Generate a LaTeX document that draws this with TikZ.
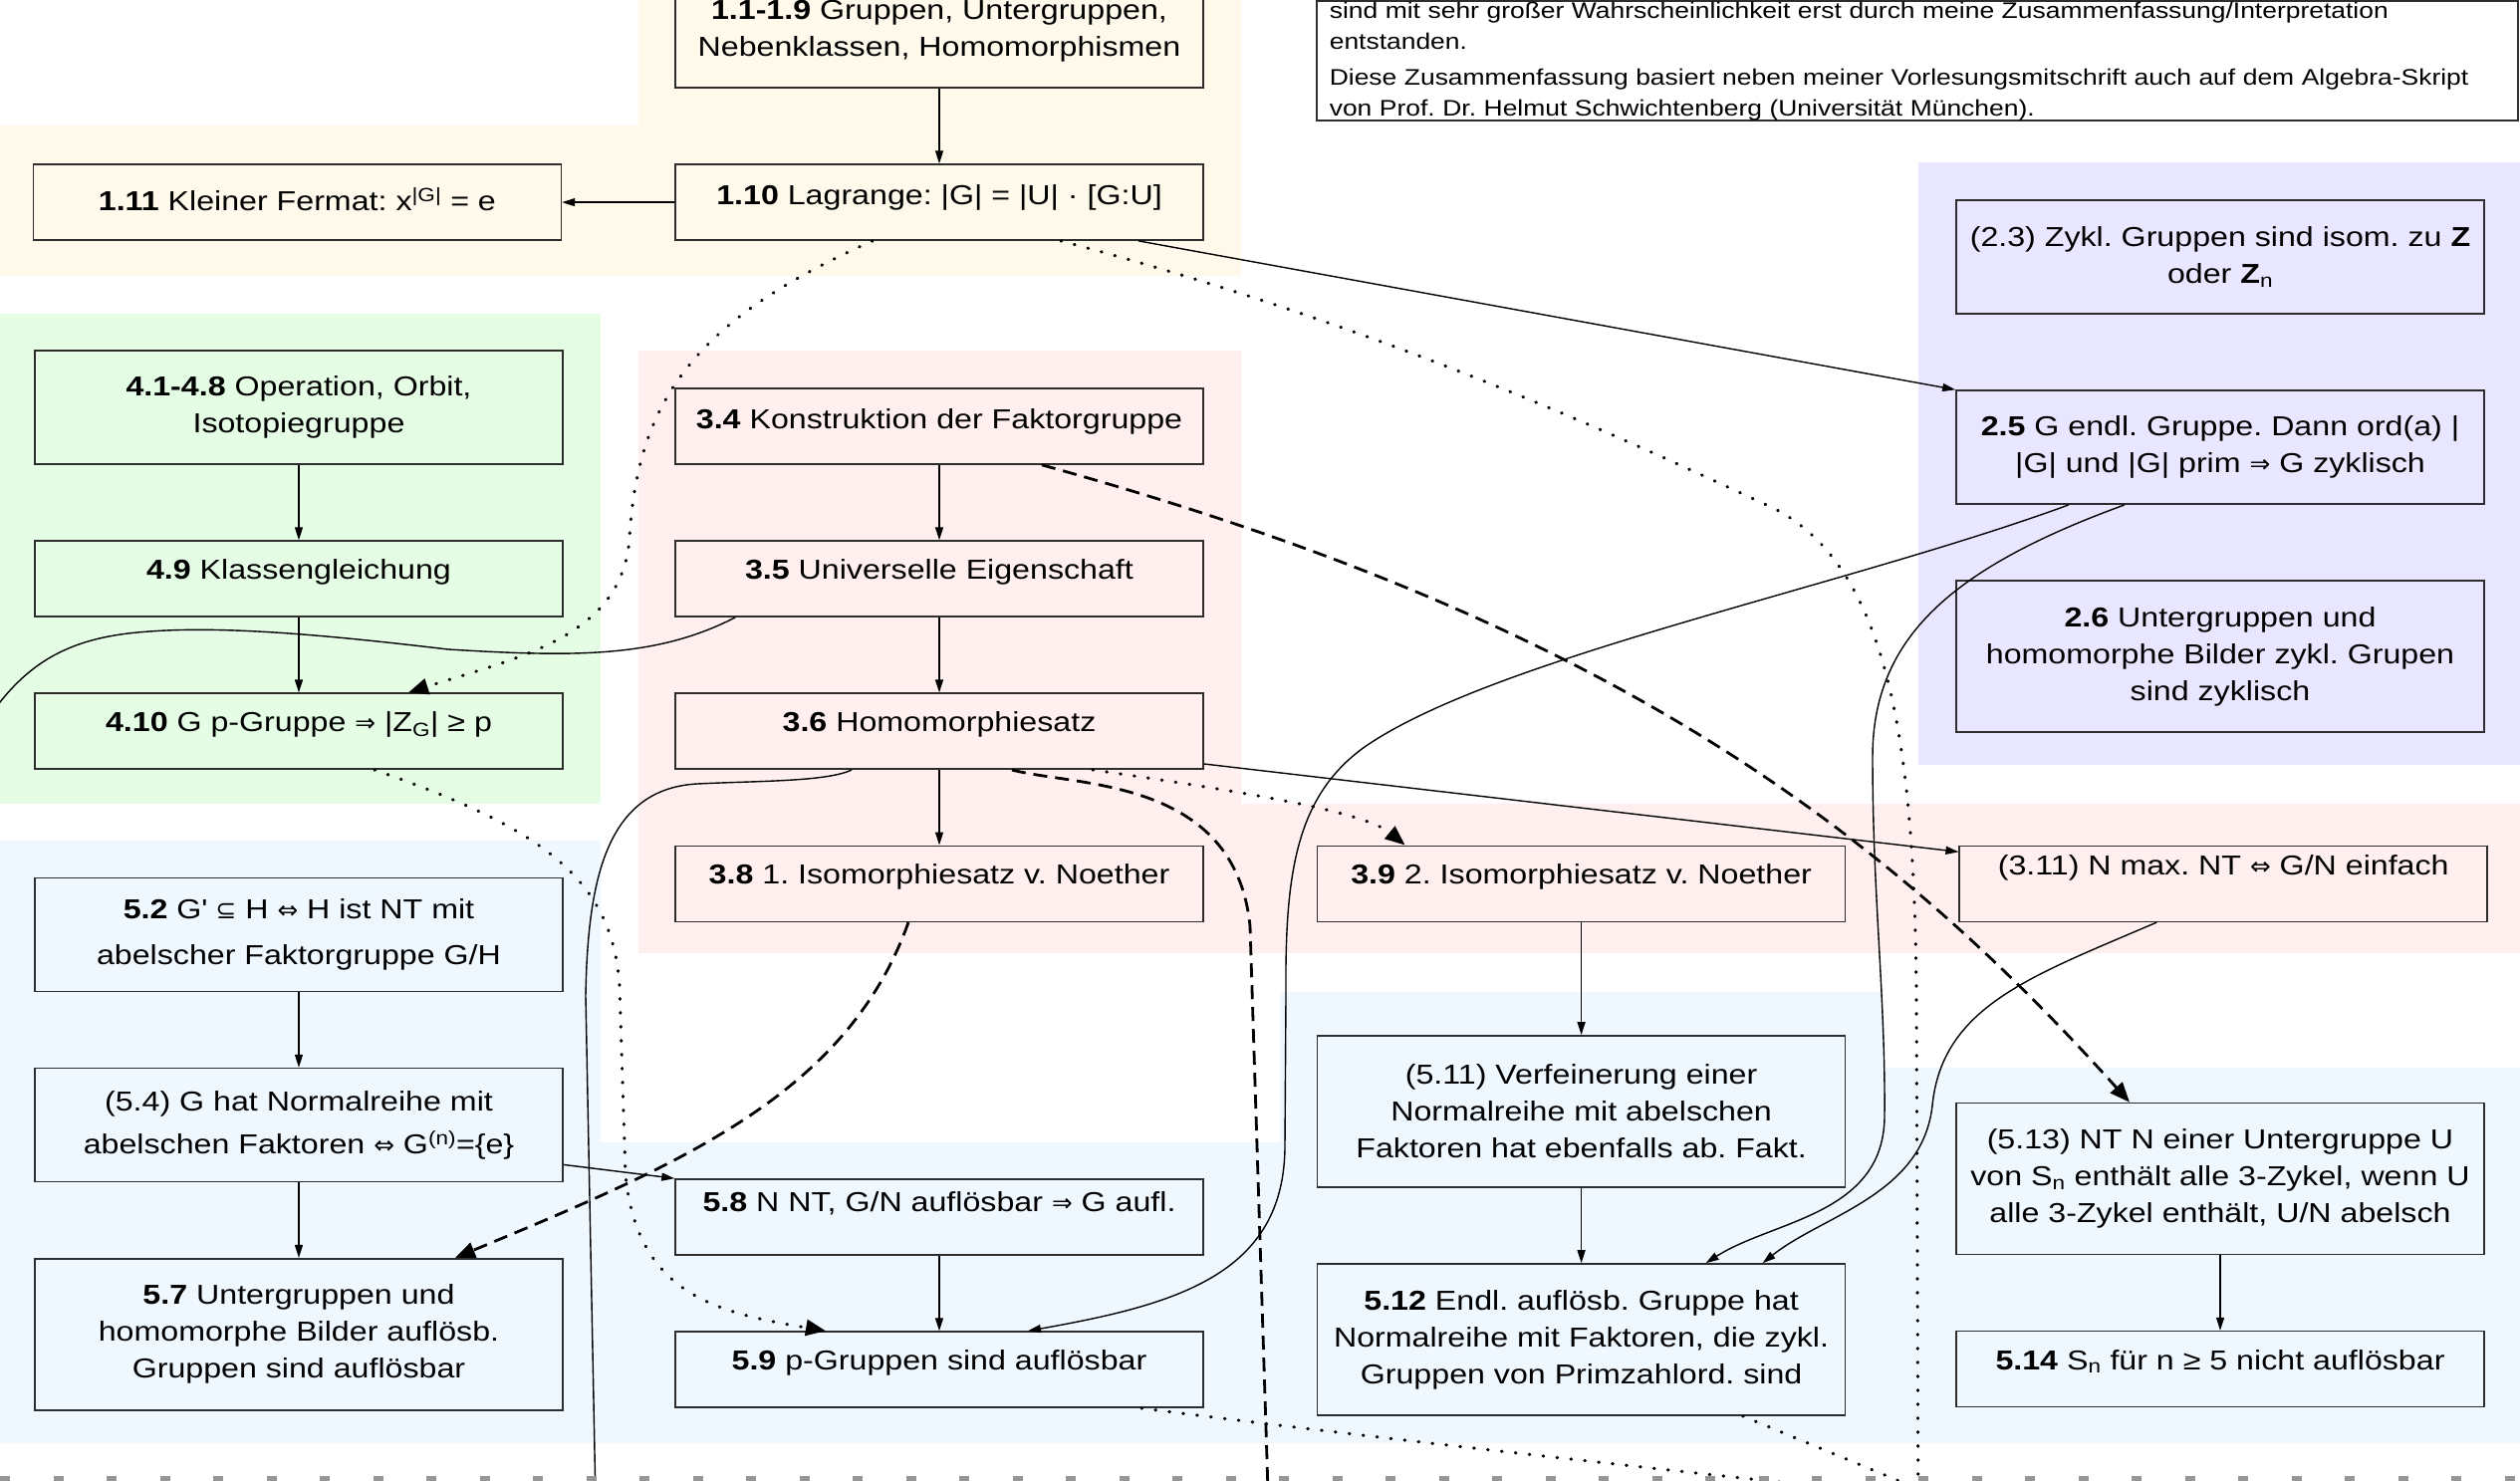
\documentclass[tikz,border=0pt]{standalone}
\usepackage{fontspec}
\setmainfont[FakeStretch=1.17]{Liberation Sans}
\newfontfamily\symfont[Scale=0.9]{DejaVu Sans}
\usepackage{tikz}
\usetikzlibrary{arrows.meta,positioning}
\definecolor{grpyellow}{RGB}{254,249,234}
\definecolor{grpgreen}{RGB}{229,252,229}
\definecolor{grppink}{RGB}{255,239,239}
\definecolor{grpviolet}{RGB}{233,231,255}
\definecolor{grpblue}{RGB}{240,248,255}
\definecolor{boxline}{RGB}{45,45,45}
\definecolor{breakgray}{RGB}{150,150,150}
\newcommand{\thimp}{{\symfont ⇒}}
\newcommand{\theqv}{{\symfont ⇔}}
\newcommand{\thsub}{{\symfont ⊆}}
\frenchspacing

\begin{document}
\begin{tikzpicture}[
    x=1pt, y=-1pt,
    node distance=75.5pt,
    thm/.style={rectangle, draw=boxline, line width=1.6pt, minimum width=530pt, inner sep=0pt, align=center, font=\fontsize{27.5}{37}\selectfont},
    one/.style={thm, minimum height=76pt, text height=20pt, text depth=19pt},
    two/.style={thm, minimum height=114pt},
    three/.style={thm, minimum height=152pt},
    note/.style={rectangle, draw=boxline, fill=white, line width=1.6pt, inner xsep=13pt, inner ysep=0.5pt, text width=1180pt, align=left, font=\fontsize{22.6}{31}\selectfont},
    arrow/.style={-{Triangle[length=13pt, width=8pt]}, line width=1.4pt},
    link/.style={line width=1.4pt},
    dotarrow/.style={-{Triangle[length=20pt, width=16pt]}, line width=3.2pt, line cap=round, dash pattern=on 0.6pt off 13.4pt},
    dotlink/.style={line width=3.2pt, line cap=round, dash pattern=on 0.6pt off 13.4pt},
    dasharrow/.style={-{Triangle[length=20pt, width=16pt]}, line width=2.8pt, dash pattern=on 14pt off 8pt},
    dashlink/.style={line width=2.8pt, dash pattern=on 14pt off 8pt}
]
\useasboundingbox (0,0) rectangle (2530,1487);

% group backgrounds
\fill[grpyellow] (0,126) -- (641,126) -- (641,-10) -- (1246,-10) -- (1246,277) -- (0,277) -- cycle;
\fill[grpgreen] (0,315) rectangle (603,807);
\fill[grppink] (641,352) -- (1246,352) -- (1246,807) -- (2540,807) -- (2540,957) -- (641,957) -- cycle;
\fill[grpviolet] (1926,163) rectangle (2540,768);
\fill[grpblue] (0,844) -- (603,844) -- (603,1147) -- (1285,1147) -- (1285,996) -- (1890,996) -- (1890,1072) -- (2540,1072) -- (2540,1449) -- (0,1449) -- cycle;

% chapter 1
\node[two] (b19) at (943,31) {\textbf{1.1-1.9} Gruppen, Untergruppen,\\Nebenklassen, Homomorphismen};
\node[one, text depth=16pt, below=of b19] (b110) {\textbf{1.10} Lagrange: |G| = |U| · [G:U]};
\node[one, text depth=4pt, left=113pt of b110] (b111) {\textbf{1.11} Kleiner Fermat: x\textsuperscript{|G|} = e};

% chapter 3
\node[one, text depth=16pt] (b34) at (943,428) {\textbf{3.4} Konstruktion der Faktorgruppe};
\node[one, below=of b34] (b35) {\textbf{3.5} Universelle Eigenschaft};
\node[one, below=of b35] (b36) {\textbf{3.6} Homomorphiesatz};
\node[one, below=of b36] (b38) {\textbf{3.8} 1. Isomorphiesatz v. Noether};
\node[one, right=113pt of b38] (b39) {\textbf{3.9} 2. Isomorphiesatz v. Noether};
\node[one, text depth=38pt, right=113pt of b39] (b311) {(3.11) N max. NT \theqv{} G/N einfach};

% chapter 4
\node[two] (b41) at (300,409) {\textbf{4.1-4.8} Operation, Orbit,\\Isotopiegruppe};
\node[one, below=of b41] (b49) {\textbf{4.9} Klassengleichung};
\node[one, below=of b49] (b410) {\textbf{4.10} G p-Gruppe \thimp{} |Z\textsubscript{G}| ≥ p};

% chapter 2
\node[two] (b23) at (2229,258) {(2.3) Zykl. Gruppen sind isom. zu \textbf{Z}\\oder \textbf{Z}\textsubscript{n}};
\node[two, below=of b23] (b25) {\textbf{2.5} G endl. Gruppe. Dann ord(a) |\\|G| und |G| prim \thimp{} G zyklisch};
\node[three, below=of b25] (b26) {\textbf{2.6} Untergruppen und\\homomorphe Bilder zykl. Grupen\\sind zyklisch};

% chapter 5
\node[two] (b52) at (300,938.5) {\textbf{5.2} G\textquotesingle{} \thsub{} H \theqv{} H ist NT mit\\[9pt]abelscher Faktorgruppe G/H};
\node[two, below=of b52] (b54) {(5.4) G hat Normalreihe mit\\[6pt]abelschen Faktoren \theqv{} G\textsuperscript{(n)}=\{e\}};
\node[three, below=of b54] (b57) {\textbf{5.7} Untergruppen und\\homomorphe Bilder auflösb.\\Gruppen sind auflösbar};
\node[one, text depth=32pt] (b58) at (943,1222) {\textbf{5.8} N NT, G/N auflösbar \thimp{} G aufl.};
\node[one, below=of b58] (b59) {\textbf{5.9} p-Gruppen sind auflösbar};
\node[three, below=113pt of b39] (b511) {(5.11) Verfeinerung einer\\Normalreihe mit abelschen\\Faktoren hat ebenfalls ab. Fakt.};
\node[three, below=of b511] (b512) {\textbf{5.12} Endl. auflösb. Gruppe hat\\Normalreihe mit Faktoren, die zykl.\\Gruppen von Primzahlord. sind};
\node[three] (b513) at (2229,1183.5) {(5.13) NT N einer Untergruppe U\\von S\textsubscript{n} enthält alle 3-Zykel, wenn U\\alle 3-Zykel enthält, U/N abelsch};
\node[one, below=of b513] (b514) {\textbf{5.14} S\textsubscript{n} für n ≥ 5 nicht auflösbar};

% source note (top right)
\node[note, anchor=south west] (note) at (1321,122) {sind mit sehr großer Wahrscheinlichkeit erst durch meine Zusammenfassung/Interpretation\\entstanden.\\[5pt]Diese Zusammenfassung basiert neben meiner Vorlesungsmitschrift auch auf dem Algebra-Skript\\von Prof. Dr. Helmut Schwichtenberg (Universität München).};

% loose ends below the page
\coordinate (exitA) at (1926,1560);
\coordinate (exitB) at (-40,770);
\coordinate (exitC) at (1275,1560);
\coordinate (exitD) at (599,1560);
\coordinate (exitE) at (1850,1495);
\coordinate (exitF) at (1955,1507);

% chapter 1 links
\draw[arrow] (b19) -- (b110);
\draw[arrow] (b110) -- (b111);
\draw[arrow] ([xshift=200pt]b110.south) -- (b25.north west);
\draw[dotarrow] ([xshift=-67pt]b110.south) .. controls (700,320) and (640,400) .. (632,540) .. controls (625,640) and (520,660) .. ([xshift=110pt]b410.north);
\draw[dotlink] ([xshift=122pt]b110.south) .. controls (1400,330) and (1650,450) .. (1780,510) .. controls (1900,570) and (1922,760) .. (1924,1000) -- (exitA);

% chapter 3 links
\draw[arrow] (b34) -- (b35);
\draw[arrow] (b35) -- (b36);
\draw[arrow] (b36) -- (b38);
\draw[dasharrow] ([xshift=103pt]b34.south) .. controls (1600,620) and (1880,820) .. ([xshift=-91pt]b513.north);
\draw[link] ([xshift=61pt]b35.south west) .. controls (660,660) and (580,660) .. (450,652) .. controls (340,639) and (230,628) .. (150,634) .. controls (60,640) and (10,670) .. (exitB);
\draw[dotarrow] ([xshift=154pt]b36.south) .. controls (1250,795) and (1370,815) .. ([xshift=-177pt]b39.north);
\draw[dashlink] ([xshift=73pt]b36.south) .. controls (1080,790) and (1240,780) .. (1255,930) -- (exitC);
\draw[link] ([xshift=-88pt]b36.south) .. controls (830,785) and (760,784) .. (700,787) .. controls (610,792) and (590,880) .. (588,1000) -- (exitD);
\draw[arrow] ([yshift=6pt]b36.south east) -- ([yshift=32pt]b311.west);
\draw[dasharrow] ([xshift=-31pt]b38.south) .. controls (850,1100) and (680,1170) .. ([xshift=157pt]b57.north);
\draw[arrow] (b39) -- (b511);

% chapter 4 links
\draw[arrow] (b41) -- (b49);
\draw[arrow] (b49) -- (b410);
\draw[dotarrow] ([xshift=76pt]b410.south) .. controls (540,830) and (615,880) .. (622,990) -- (628,1180) .. controls (640,1300) and (720,1318) .. ([xshift=-114pt]b59.north);

% chapter 2 links
\draw[arrow] ([xshift=-152pt]b25.south) .. controls (1850,590) and (1500,660) .. (1370,750) .. controls (1300,800) and (1290,880) .. (1291,1000) -- (1290,1150) .. controls (1290,1280) and (1180,1310) .. ([xshift=89pt]b59.north);
\draw[arrow] ([xshift=-96pt]b25.south) .. controls (1960,570) and (1880,640) .. (1880,760) .. controls (1880,900) and (1893,1000) .. (1892,1120) .. controls (1892,1220) and (1780,1225) .. ([xshift=125pt]b512.north);

% chapter 5 links
\draw[arrow] (b52) -- (b54);
\draw[arrow] (b54) -- (b57);
\draw[arrow] ([yshift=18pt]b54.south east) -- (b58.north west);
\draw[arrow] (b58) -- (b59);
\draw[arrow] (b511) -- (b512);
\draw[arrow] (b513) -- (b514);
\draw[arrow] ([xshift=-67pt]b311.south) .. controls (2040,980) and (1950,1010) .. (1940,1110) .. controls (1930,1200) and (1830,1220) .. ([xshift=182pt]b512.north);
\draw[dotlink] ([xshift=203pt]b59.south) .. controls (1350,1440) and (1600,1468) .. (exitE);
\draw[dotlink] ([xshift=162pt]b512.south) -- (exitF);

% page break
\draw[breakgray, line width=10pt, dash pattern=on 10pt off 43.5pt] (0,1487) -- (2530,1487);

\end{tikzpicture}
\end{document}
